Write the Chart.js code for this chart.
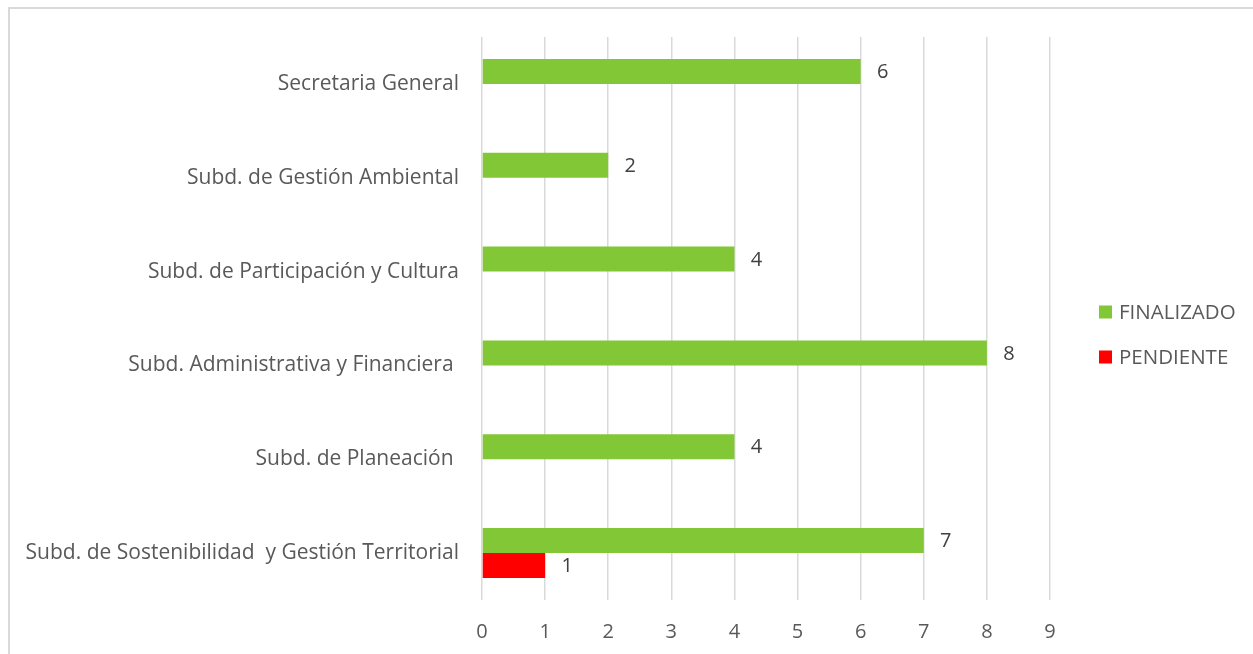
<!DOCTYPE html>
<html>
<head>
<meta charset="utf-8">
<script src="https://cdn.jsdelivr.net/npm/chart.js@4/dist/chart.umd.min.js"></script>
<style>
  html, body { margin: 0; padding: 0; background: #fff; }
  #wrap { position: relative; width: 1253px; height: 654px; }
  #frame { position: absolute; left: 8px; top: 7px; right: 0; bottom: 0;
           border-left: 2px solid #d9d9d9; border-top: 2px solid #d9d9d9; }
  canvas { position: absolute; left: 0; top: 0; }
</style>
</head>
<body>
<div id="wrap">
  <div id="frame"></div>
  <canvas id="chart" width="1253" height="654"></canvas>
</div>
<script>
// categories, top to bottom
const categories = [
    'Secretaria General',
    'Subd. de Gestión Ambiental',
    'Subd. de Participación y Cultura',
    'Subd. Administrativa y Financiera ',
    'Subd. de Planeación ',
    'Subd. de Sostenibilidad  y Gestión Territorial'
];
const finalizado = [6, 2, 4, 8, 4, 7];
const pendiente = [null, null, null, null, null, 1];
const seriesNames = ['FINALIZADO', 'PENDIENTE'];
const seriesColors = ['#82c736', '#ff0000'];
const xTicks = [0, 1, 2, 3, 4, 5, 6, 7, 8, 9];

const FONT = '"Open Sans", sans-serif';
const TEXT = '#595959';

// value labels to the right of each bar
const valueLabels = {
    id: 'valueLabels',
    afterDatasetsDraw(chart) {
        const ctx = chart.ctx;
        ctx.save();
        ctx.font = '20px ' + FONT;
        ctx.fillStyle = '#404040';
        ctx.textAlign = 'center';
        ctx.textBaseline = 'middle';
        chart.data.datasets.forEach((ds, i) => {
            chart.getDatasetMeta(i).data.forEach((bar, j) => {
                if (ds.data[j] == null) return;
                ctx.fillText(String(ds.data[j]), bar.x + 22, bar.y + 1);
            });
        });
        ctx.restore();
    }
};

// legend on the right, drawn by hand so its spot matches
const sideLegend = {
    id: 'sideLegend',
    afterDraw(chart) {
        const ctx = chart.ctx;
        ctx.save();
        ctx.font = '20.5px ' + FONT;
        ctx.textBaseline = 'middle';
        chart.data.datasets.forEach((ds, i) => {
            const y = 312 + i * 45;
            ctx.fillStyle = ds.backgroundColor;
            ctx.fillRect(1099, y - 6.5, 13, 13);
            ctx.fillStyle = TEXT;
            ctx.fillText(ds.label, 1119, y + 1);
        });
        ctx.restore();
    }
};

new Chart(document.getElementById('chart'), {
    type: 'bar',
    data: {
        labels: categories,
        datasets: [
            { label: seriesNames[0], data: finalizado, backgroundColor: seriesColors[0] },
            { label: seriesNames[1], data: pendiente, backgroundColor: seriesColors[1] }
        ]
    },
    options: {
        indexAxis: 'y',
        responsive: false,
        animation: false,
        categoryPercentage: 0.533,
        barPercentage: 1.0,
        layout: {
            padding: { top: 37, right: 203, left: 0, bottom: 0 }
        },
        scales: {
            x: {
                min: 0,
                max: 9,
                afterBuildTicks(scale) {
                    scale.ticks = xTicks.map(v => ({ value: v }));
                },
                afterFit(scale) { scale.height = 54; },
                border: { display: false },
                grid: { color: '#d9d9d9', lineWidth: 1.5, drawTicks: false },
                ticks: { color: TEXT, font: { family: FONT, size: 20 }, padding: 20 }
            },
            y: {
                afterFit(scale) { scale.width = 482; },
                border: { display: false },
                grid: { display: false, drawTicks: false },
                ticks: { color: TEXT, font: { family: FONT, size: 21 }, padding: 23 }
            }
        },
        plugins: {
            legend: { display: false },
            tooltip: { enabled: false }
        }
    },
    plugins: [valueLabels, sideLegend]
});
</script>
</body>
</html>
